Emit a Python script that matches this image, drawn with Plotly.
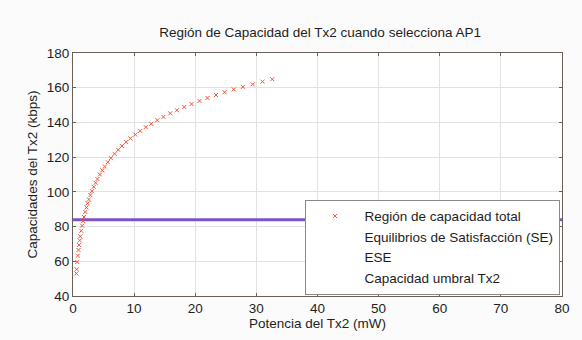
import plotly.graph_objects as go

# Capacity region points (Potencia mW, Capacidad kbps)
region_x = [0.55, 0.6, 0.7, 0.8, 0.9, 1.0, 1.1, 1.2, 1.35, 1.5, 1.65, 1.8, 2.0, 2.2, 2.4, 2.6,
            2.85, 3.1, 3.4, 3.7, 4.0, 4.4, 4.8, 5.2, 5.7, 6.2, 6.8, 7.4, 8.0, 8.7, 9.4, 10.2,
            11.0, 11.9, 12.8, 13.8, 14.8, 15.9, 17.0, 18.2, 19.4, 20.7, 22.0, 23.4, 24.8,
            26.3, 27.8, 29.4, 31.0, 32.6]
region_y = [53.0, 55.4, 59.6, 63.3, 66.5, 69.4, 72.0, 74.4, 77.6, 80.5, 83.1, 85.5, 88.4, 91.0,
            93.4, 95.6, 98.1, 100.4, 102.9, 105.2, 107.4, 110.0, 112.4, 114.6, 117.1, 119.4,
            121.9, 124.2, 126.4, 128.7, 130.8, 133.0, 135.1, 137.3, 139.2, 141.3, 143.2,
            145.2, 147.0, 148.9, 150.6, 152.4, 154.1, 155.8, 157.4, 159.0, 160.5, 162.0,
            163.5, 164.9]

threshold_x = [0, 80]
threshold_y = [84, 84]

x_ticks = [0, 10, 20, 30, 40, 50, 60, 70, 80]
y_ticks = [40, 60, 80, 100, 120, 140, 160, 180]

font_family = "Liberation Sans, Arial, sans-serif"
fs = 13.5
tcol = "#1e1e1e"

fig = go.Figure()

fig.add_trace(go.Scatter(
    x=threshold_x, y=threshold_y, mode="lines",
    line=dict(color="#7a55c8", width=3), showlegend=False, hoverinfo="skip"))

fig.add_trace(go.Scatter(
    x=region_x, y=region_y, mode="markers", name="Región de capacidad total",
    marker=dict(symbol="x-thin-open", size=4, line=dict(color="#f06a5a", width=1))))

for nm in ["Equilibrios de Satisfacción (SE)", "ESE", "Capacidad umbral Tx2"]:
    fig.add_trace(go.Scatter(
        x=[None], y=[None], mode="markers", name=nm,
        marker=dict(size=1, color="rgba(0,0,0,0)")))

axis_common = dict(
    showline=True, linecolor="#6b5f5a", linewidth=1, mirror="ticks",
    ticks="inside", ticklen=3, tickcolor="#6b5f5a",
    showgrid=True, gridcolor="#e2e2e2", gridwidth=1,
    zeroline=False, tickfont=dict(size=fs, color=tcol, family=font_family),
)

fig.update_xaxes(range=[0, 80], tickvals=x_ticks, **axis_common,
                 title=dict(text="Potencia del Tx2 (mW)", standoff=2,
                            font=dict(size=fs, color=tcol, family=font_family)))
fig.update_yaxes(range=[40, 180], tickvals=y_ticks, **axis_common,
                 title=dict(text="Capacidades del Tx2 (kbps)", standoff=6,
                            font=dict(size=fs, color=tcol, family=font_family)))

fig.update_layout(
    width=582, height=340,
    margin=dict(l=73, r=17, t=53, b=42),
    paper_bgcolor="#fbfbfb", plot_bgcolor="white",
    title=dict(text="Región de Capacidad del Tx2 cuando selecciona AP1",
               x=0.55, xanchor="center", y=0.905, yanchor="middle",
               font=dict(size=13.5, color=tcol, family=font_family)),
    legend=dict(x=0.995, y=0.005, xanchor="right", yanchor="bottom",
                bgcolor="white", bordercolor="#8a8a8a", borderwidth=1,
                font=dict(size=fs, color=tcol, family=font_family),
                itemwidth=49, tracegroupgap=2),
    showlegend=True,
)

fig.write_html("out.html")
